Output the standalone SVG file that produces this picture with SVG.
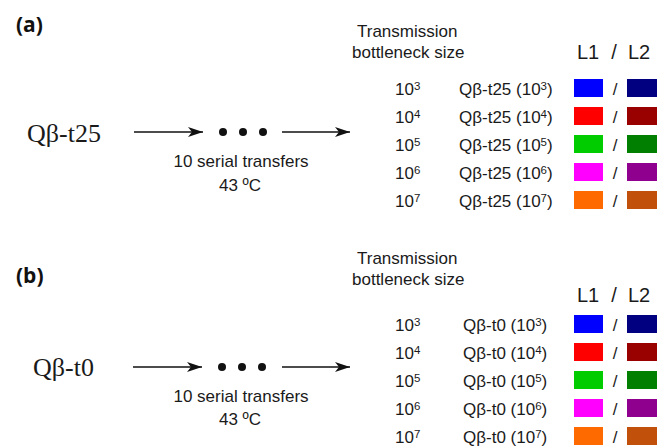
<svg xmlns="http://www.w3.org/2000/svg" width="657" height="448" viewBox="0 0 657 448">
  <style>
    .sans { font-family: "Liberation Sans", Arial, sans-serif; font-size: 17px; fill: #1a1a1a; }
    .big { font-size: 20px; }
    .serif { font-family: "Liberation Serif", "Times New Roman", serif; font-size: 26px; fill: #1a1a1a; }
    .panel { font-family: "Open Sans", "Liberation Sans", sans-serif; font-size: 21px; font-weight: bold; fill: #111; }
    .sup { font-size: 11.5px; }
    .mid { text-anchor: middle; }
    .link { stroke: #111; stroke-width: 1.4; fill: none; }
    .dot { fill: #111; }
  </style>
  <defs>
    <marker id="arrow" markerUnits="userSpaceOnUse" markerWidth="16" markerHeight="12" refX="15" refY="5" orient="auto">
      <path d="M0,0 L15,5 L0,10 L4,5 Z" fill="#111"/>
    </marker>
  </defs>
  <rect width="657" height="448" fill="#fff"/>

  <!-- Panel (a) -->
  <g id="panel-a">
    <text class="panel" x="16" y="32">(a)</text>

    <g id="a-source">
      <text class="serif" x="27" y="142">Qβ-t25</text>
    </g>

    <g id="a-transfers">
      <circle class="dot" cx="223" cy="132" r="4"/>
      <circle class="dot" cx="243" cy="132" r="4"/>
      <circle class="dot" cx="263" cy="132" r="4"/>
      <text class="sans mid" x="241" y="167">10 serial transfers</text>
      <text class="sans mid" x="240" y="191">43 ºC</text>
    </g>

    <g id="a-legend-header">
      <text class="sans" x="357" y="37">Transmission</text>
      <text class="sans" x="352" y="58">bottleneck size</text>
      <text class="sans big" x="577" y="59">L1</text>
      <text class="sans big mid" x="614" y="59">/</text>
      <text class="sans big" x="628" y="59">L2</text>
    </g>

    <g id="a-row-3">
      <text class="sans" x="395" y="95">10<tspan class="sup" dy="-5">3</tspan></text>
      <text class="sans" x="459" y="95">Qβ-t25 (10<tspan class="sup" dy="-5">3</tspan><tspan dy="5">)</tspan></text>
      <rect x="574" y="79" width="29" height="18" fill="#0000ff"/>
      <text class="sans mid" x="615" y="95">/</text>
      <rect x="627" y="79" width="30" height="18" fill="#000080"/>
    </g>
    <g id="a-row-4">
      <text class="sans" x="395" y="123">10<tspan class="sup" dy="-5">4</tspan></text>
      <text class="sans" x="459" y="123">Qβ-t25 (10<tspan class="sup" dy="-5">4</tspan><tspan dy="5">)</tspan></text>
      <rect x="574" y="107" width="29" height="18" fill="#ff0000"/>
      <text class="sans mid" x="615" y="123">/</text>
      <rect x="627" y="107" width="30" height="18" fill="#990000"/>
    </g>
    <g id="a-row-5">
      <text class="sans" x="395" y="151">10<tspan class="sup" dy="-5">5</tspan></text>
      <text class="sans" x="459" y="151">Qβ-t25 (10<tspan class="sup" dy="-5">5</tspan><tspan dy="5">)</tspan></text>
      <rect x="574" y="135" width="29" height="18" fill="#00cc00"/>
      <text class="sans mid" x="615" y="151">/</text>
      <rect x="627" y="135" width="30" height="18" fill="#007f00"/>
    </g>
    <g id="a-row-6">
      <text class="sans" x="395" y="179">10<tspan class="sup" dy="-5">6</tspan></text>
      <text class="sans" x="459" y="179">Qβ-t25 (10<tspan class="sup" dy="-5">6</tspan><tspan dy="5">)</tspan></text>
      <rect x="574" y="163" width="29" height="18" fill="#ff00ff"/>
      <text class="sans mid" x="615" y="179">/</text>
      <rect x="627" y="163" width="30" height="18" fill="#8f008f"/>
    </g>
    <g id="a-row-7">
      <text class="sans" x="395" y="207">10<tspan class="sup" dy="-5">7</tspan></text>
      <text class="sans" x="459" y="207">Qβ-t25 (10<tspan class="sup" dy="-5">7</tspan><tspan dy="5">)</tspan></text>
      <rect x="574" y="191" width="29" height="18" fill="#ff6a00"/>
      <text class="sans mid" x="615" y="207">/</text>
      <rect x="627" y="191" width="30" height="18" fill="#c0500a"/>
    </g>
  </g>

  <!-- Panel (b) -->
  <g id="panel-b">
    <text class="panel" x="16" y="283">(b)</text>

    <g id="b-source">
      <text class="serif" x="33" y="376">Qβ-t0</text>
    </g>

    <g id="b-transfers">
      <circle class="dot" cx="222" cy="367" r="4"/>
      <circle class="dot" cx="242" cy="367" r="4"/>
      <circle class="dot" cx="262" cy="367" r="4"/>
      <text class="sans mid" x="241" y="402">10 serial transfers</text>
      <text class="sans mid" x="240" y="425">43 ºC</text>
    </g>

    <g id="b-legend-header">
      <text class="sans" x="357" y="264">Transmission</text>
      <text class="sans" x="352" y="285">bottleneck size</text>
      <text class="sans big" x="577" y="302">L1</text>
      <text class="sans big mid" x="614" y="302">/</text>
      <text class="sans big" x="628" y="302">L2</text>
    </g>

    <g id="b-row-3">
      <text class="sans" x="395" y="331">10<tspan class="sup" dy="-5">3</tspan></text>
      <text class="sans" x="463" y="331">Qβ-t0 (10<tspan class="sup" dy="-5">3</tspan><tspan dy="5">)</tspan></text>
      <rect x="574" y="315" width="29" height="18" fill="#0000ff"/>
      <text class="sans mid" x="615" y="331">/</text>
      <rect x="627" y="315" width="30" height="18" fill="#000080"/>
    </g>
    <g id="b-row-4">
      <text class="sans" x="395" y="359">10<tspan class="sup" dy="-5">4</tspan></text>
      <text class="sans" x="463" y="359">Qβ-t0 (10<tspan class="sup" dy="-5">4</tspan><tspan dy="5">)</tspan></text>
      <rect x="574" y="343" width="29" height="18" fill="#ff0000"/>
      <text class="sans mid" x="615" y="359">/</text>
      <rect x="627" y="343" width="30" height="18" fill="#990000"/>
    </g>
    <g id="b-row-5">
      <text class="sans" x="395" y="387">10<tspan class="sup" dy="-5">5</tspan></text>
      <text class="sans" x="463" y="387">Qβ-t0 (10<tspan class="sup" dy="-5">5</tspan><tspan dy="5">)</tspan></text>
      <rect x="574" y="371" width="29" height="18" fill="#00cc00"/>
      <text class="sans mid" x="615" y="387">/</text>
      <rect x="627" y="371" width="30" height="18" fill="#007f00"/>
    </g>
    <g id="b-row-6">
      <text class="sans" x="395" y="415">10<tspan class="sup" dy="-5">6</tspan></text>
      <text class="sans" x="463" y="415">Qβ-t0 (10<tspan class="sup" dy="-5">6</tspan><tspan dy="5">)</tspan></text>
      <rect x="574" y="399" width="29" height="18" fill="#ff00ff"/>
      <text class="sans mid" x="615" y="415">/</text>
      <rect x="627" y="399" width="30" height="18" fill="#8f008f"/>
    </g>
    <g id="b-row-7">
      <text class="sans" x="395" y="443">10<tspan class="sup" dy="-5">7</tspan></text>
      <text class="sans" x="463" y="443">Qβ-t0 (10<tspan class="sup" dy="-5">7</tspan><tspan dy="5">)</tspan></text>
      <rect x="574" y="427" width="29" height="18" fill="#ff6a00"/>
      <text class="sans mid" x="615" y="443">/</text>
      <rect x="627" y="427" width="30" height="18" fill="#c0500a"/>
    </g>
  </g>

  <!-- Connectors -->
  <g id="connectors">
    <line class="link" x1="134" y1="132" x2="203" y2="132" marker-end="url(#arrow)"/>
    <line class="link" x1="282" y1="132" x2="350" y2="132" marker-end="url(#arrow)"/>
    <line class="link" x1="133" y1="367" x2="202" y2="367" marker-end="url(#arrow)"/>
    <line class="link" x1="282" y1="367" x2="350" y2="367" marker-end="url(#arrow)"/>
  </g>
</svg>
